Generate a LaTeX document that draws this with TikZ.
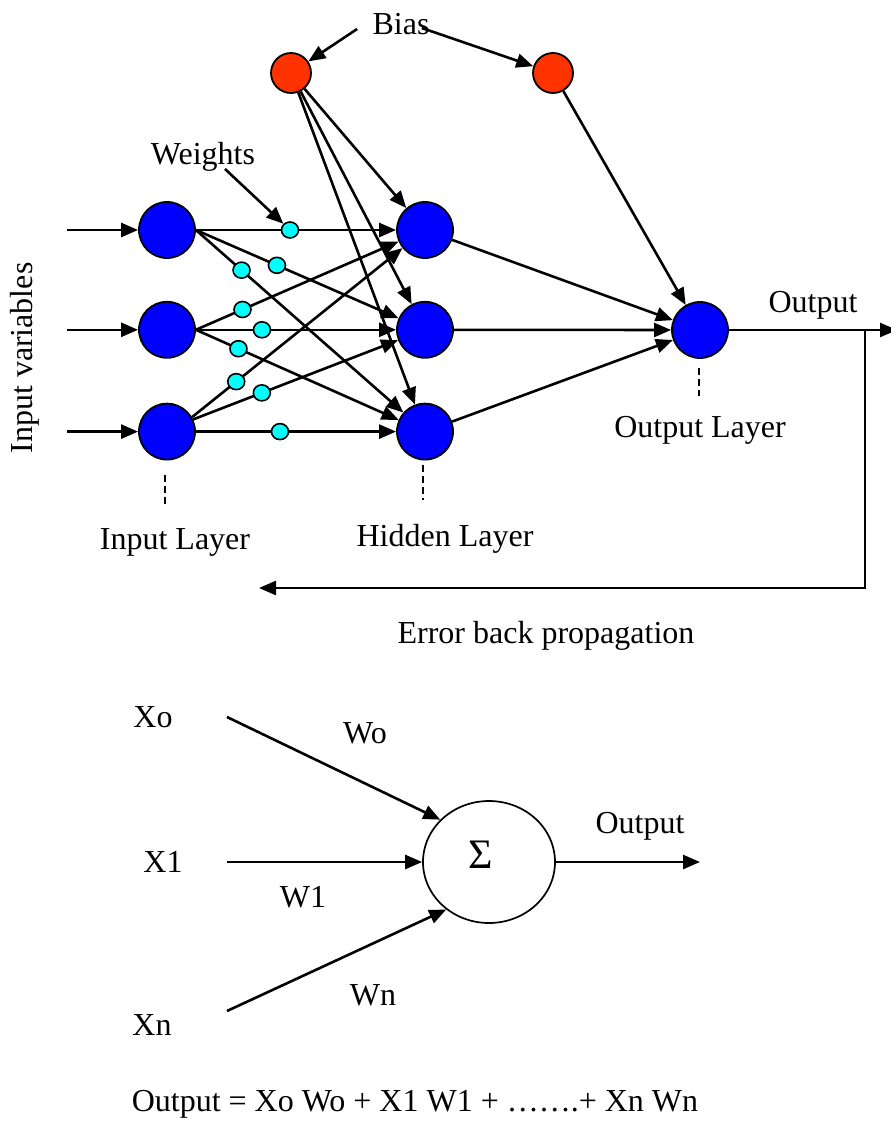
\documentclass[tikz,border=0pt]{standalone}
\usepackage{fontspec}
\setmainfont{Liberation Serif}
\usetikzlibrary{arrows.meta, positioning, shapes.geometric}
\definecolor{unitblue}{RGB}{0,0,255}
\definecolor{biasred}{RGB}{255,51,0}
\definecolor{weightcyan}{RGB}{0,255,255}
\tikzset{
    neuron/.style={
        circle, draw=black, fill=unitblue, line width=0.9pt,
        minimum size=28pt, inner sep=0pt
    },
    biasnode/.style={
        circle, draw=black, fill=biasred, line width=0.9pt,
        minimum size=20pt, inner sep=0pt
    },
    wdot/.style={
        ellipse, draw=black, fill=weightcyan, line width=0.8pt,
        minimum width=8.5pt, minimum height=8pt, inner sep=0pt
    },
    sumnode/.style={
        ellipse, draw=black, line width=0.85pt,
        minimum width=66pt, minimum height=61pt, inner sep=0pt
    },
    txt/.style={font=\fontsize{16}{19}\selectfont, inner sep=1pt},
    arrow/.style={-{Triangle[length=8.5pt, width=7pt]}, line width=1.3pt},
    guide/.style={dash pattern=on 3.5pt off 2pt, line width=0.6pt}
}

\begin{document}
\begin{tikzpicture}[x=0.5pt, y=-0.5pt]
    \useasboundingbox (0,0) rectangle (890,1124);

    % network: input, hidden and output units
    \node[neuron] (i1) at (167,230) {};
    \node[neuron, below=21pt of i1] (i2) {};
    \node[neuron, below=22pt of i2] (i3) {};
    \node[neuron] (h1) at (425,230) {};
    \node[neuron, below=21pt of h1] (h2) {};
    \node[neuron, below=22pt of h2] (h3) {};
    \node[neuron] (out) at (700,330) {};
    \node[biasnode] (b1) at (291,73) {};
    \node[biasnode] (b2) at (553,73) {};

    \node[txt] (bias) at (401,24) {Bias};
    \node[txt] (weights) at (203,157) {Weights};
    \node[txt, rotate=90] (invars) at (25,358) {Input variables};
    \node[txt] (inlayer) at (175,542) {Input Layer};
    \node[txt] (hidlayer) at (445,539) {Hidden Layer};
    \node[txt] (outlayer) at (700,430) {Output Layer};
    \node[txt] (outlbl) at (813,305) {Output};
    \node[txt] (errlbl) at (546,636) {Error back propagation};

    \foreach \n in {1,2,3}
        \draw[arrow] (i\n.west) +(-71,0) -- (i\n.west);

    % input -> hidden, one weight on every link
    \foreach \a/\s/\b/\p in {1/east/1/.47, 1/east/2/.40, 1/east/3/.22,
                             2/east/1/.23, 2/east/2/.33, 2/east/3/.21,
                             3/30/1/.21, 3/25/2/.335, 3/east/3/.42}
        \draw[arrow] (i\a.\s) -- node[wdot, pos=\p] (d\a\b) {} (h\b);

    \foreach \b in {1,2,3} {
        \draw[arrow] (b1) -- (h\b);
        \draw[arrow] (h\b) -- (out);
    }
    \draw[arrow] (b2) -- (out);

    \draw[arrow] ([shift={(-13,5)}]bias.west) -- (b1);
    \draw[arrow] ([shift={(-10,4)}]bias.east) -- (b2);
    \draw[arrow] ([shift={(22,-5)}]weights.south) -- (d11);

    \draw[guide] ([shift={(-2,14)}]i3.south) -- ++(0,30);
    \draw[guide] ([shift={(-2,4)}]h3.south) -- ++(0,35);
    \draw[guide] ([shift={(-1,9)}]out.south) -- ++(0,28);

    % output and the error fed back
    \coordinate (outend) at (897,330);
    \coordinate (tap) at (865,330);
    \coordinate (errend) at (259,588);
    \draw[arrow] (out.east) -- (outend);
    \draw[arrow] (tap) |- (errend);

    % single neuron
    \node[sumnode] (sum) at (489,862) {};
    \node[txt, font=\fontsize{21}{24}\selectfont] (sigma) at (481,855) {Σ};
    \node[txt] (x0lbl) at (153,717) {Xo};
    \node[txt] (x1lbl) at (163,862) {X1};
    \node[txt] (xnlbl) at (152,1025) {Xn};
    \node[txt] (w0lbl) at (365,733) {Wo};
    \node[txt] (w1lbl) at (303,897) {W1};
    \node[txt] (wnlbl) at (373,995) {Wn};
    \node[txt] (sumlbl) at (640,826) {Output};
    \node[txt] (formula) at (415,1104) {Output = Xo Wo + X1 W1 + …….+ Xn Wn};

    \coordinate (x0s) at (227,717);
    \coordinate (x1s) at (227,862);
    \coordinate (xns) at (227,1011);
    \coordinate (sumend) at (700,862);
    \draw[arrow] (x0s) -- (sum.139);
    \draw[arrow] (x1s) -- (sum.west);
    \draw[arrow] (xns) -- (sum.228);
    \draw[arrow] (sum.east) -- (sumend);
\end{tikzpicture}
\end{document}
